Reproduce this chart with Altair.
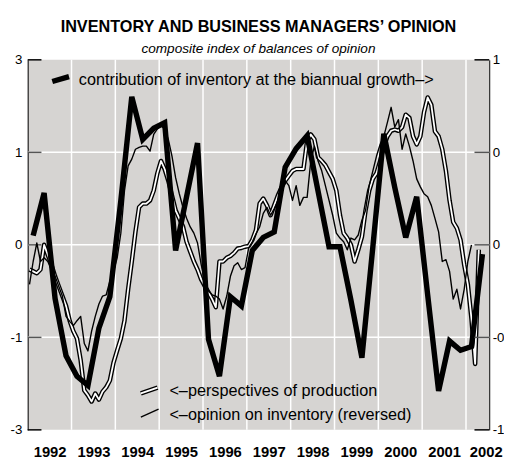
import altair as alt
import pandas as pd

# ---------------- data ----------------
year_ticks = [1993, 1994, 1995, 1996, 1997, 1998, 1999, 2000, 2001, 2002]
year_label_pos = [1992.5, 1993.5, 1994.5, 1995.5, 1996.5, 1997.5, 1998.5,
                  1999.5, 2000.5, 2001.5, 2002.45]

# contribution of inventory at the biannual growth (quarterly, right axis)
inventory_contrib = [0.05, 0.28, -0.29, -0.60, -0.71, -0.76, -0.45, -0.28,
                     0.24, 0.80, 0.57, 0.63, 0.66, -0.03, 0.26, 0.55,
                     -0.51, -0.71, -0.28, -0.33, -0.03, 0.04, 0.07, 0.42,
                     0.52, 0.59, 0.29, -0.01, -0.01, -0.30, -0.61, -0.01,
                     0.60, 0.31, 0.04, 0.26, -0.27, -0.79, -0.52, -0.57,
                     -0.55, -0.05]

# perspectives of production (monthly, left axis)
perspectives = [-0.40, -0.43, -0.46, -0.40, 0.00, -0.16, -0.32, -0.51, -0.67, -0.83, -0.99, -1.23,
                -1.40, -1.52, -1.87, -2.36, -2.44, -2.54, -2.41, -2.51, -2.38, -2.31, -2.20, -1.91,
                -1.71, -1.52, -1.23, -0.72, -0.27, 0.21, 0.61, 0.67, 0.67, 0.72, 0.88, 1.16,
                1.36, 1.23, 1.04, 0.80, 0.56, 0.43, 0.30, 0.05, -0.11, -0.27, -0.40, -0.56,
                -0.67, -0.77, -0.88, -1.01, -0.27, -0.27, -0.21, -0.18, -0.13, -0.06, -0.05, -0.03,
                -0.02, 0.08, 0.24, 0.67, 0.75, 0.64, 0.48, 0.64, 0.80, 0.93, 1.04, 1.12,
                1.20, 1.23, 1.23, 1.23, 1.68, 1.79, 1.71, 1.42, 1.36, 1.29, 1.18, 1.07,
                0.88, 0.48, 0.19, 0.11, 0.00, -0.27, -0.08, 0.13, 0.56, 0.88, 1.07, 1.16,
                1.36, 1.60, 1.76, 1.85, 1.87, 1.85, 1.91, 2.11, 2.06, 1.76, 1.63, 1.76,
                2.15, 2.39, 2.27, 1.84, 1.76, 1.55, 1.20, 0.72, 0.37, 0.27, 0.08, -0.32,
                -0.64, -1.20, -1.93, -0.08]

# opinion on inventory, reversed (monthly, left axis)
opinion = [-0.64, -0.27, 0.03, -0.27, -0.21, -0.27, -0.40, -0.51, -0.67, -0.83, -1.16, -1.24,
           -1.31, -1.23, -1.16, -1.60, -1.72, -1.40, -1.16, -0.96, -0.83, -0.81, -0.59, -0.43,
           -0.21, 0.19, 0.88, 1.28, 1.39, 1.55, 1.58, 1.60, 1.60, 1.52, 1.79, 1.88,
           1.93, 1.88, 1.71, 1.44, 1.09, 0.83, 0.61, 0.43, 0.29, 0.19, 0.03, -0.32,
           -0.59, -0.75, -0.81, -0.83, -0.88, -1.04, -0.83, -0.51, -0.34, -0.29, -0.40, -0.37,
           -0.05, 0.05, 0.18, 0.29, 0.51, 0.61, 0.48, 0.59, 0.72, 0.88, 1.04, 0.96,
           0.72, 0.96, 0.64, 0.77, 0.77, 1.36, 1.60, 1.36, 1.20, 0.96, 0.72, 0.48,
           0.19, 0.11, 0.05, -0.08, 0.11, 0.08, 0.16, 0.40, 0.56, 0.96, 1.20, 1.44,
           1.63, 1.76, 1.99, 2.23, 1.91, 2.03, 1.55, 1.80, 1.60, 1.36, 1.07, 0.94,
           0.83, 0.78, 0.64, 0.43, 0.21, -0.27, -0.24, -0.43, -0.88, -0.72, -1.04, -0.72,
           -0.27, 0.00]

left_ticks = [-3, -1.5, 0, 1.5, 3]
right_ticks = [-1, -0.5, 0, 0.5, 1]
tick_colors = ["black", "#555555", "#555555", "#555555", "black"]
h_grid = [-1.5, 0, 1.5]

# ---------------- frames ----------------
df_thick = pd.DataFrame({"t": [1992 + (i + 0.5) / 4 for i in range(len(inventory_contrib))],
                         "v": inventory_contrib})
df_persp = pd.DataFrame({"t": [1992 + (i + 0.5) / 12 for i in range(len(perspectives))],
                         "v": perspectives})
df_opin = pd.DataFrame({"t": [1992 + (i + 0.5) / 12 for i in range(len(opinion))],
                        "v": opinion})
df_vgrid = pd.DataFrame({"t": year_ticks})
df_hgrid = pd.DataFrame({"v": h_grid})
df_lt = pd.DataFrame({"v": left_ticks, "c": tick_colors})
df_rt = pd.DataFrame({"v": right_ticks, "c": tick_colors})
one = pd.DataFrame({"a": [0]})

W, H = 469, 376
FONT = "Liberation Sans, Arial, sans-serif"
LEG_FS = 16.5

xs = alt.Scale(domain=[1992, 2002.53], nice=False, zero=False)
yl = alt.Scale(domain=[-3, 3], nice=False, zero=False)
yr = alt.Scale(domain=[-1, 1], nice=False, zero=False)

label_expr = "(datum.value < 0 ? '-' : '') + floor(abs(datum.value))"

x_axis = alt.Axis(values=year_label_pos, labelExpr="toString(floor(datum.value))",
                  ticks=False, domain=False, grid=False, title=None,
                  labelFont=FONT, labelFontSize=15, labelFontWeight="bold",
                  labelColor="black", labelPadding=15, labelFlush=False,
                  labelOverlap=False)
yl_axis = alt.Axis(orient="left", values=left_ticks, labelExpr=label_expr,
                   ticks=False, domain=True, domainColor="black", domainWidth=1,
                   grid=False, title=None, labelFont=FONT, labelFontSize=13.5,
                   labelColor="black", labelPadding=6, labelOverlap=False)
yr_axis = alt.Axis(orient="right", values=right_ticks, labelExpr=label_expr,
                   ticks=False, domain=True, domainColor="black", domainWidth=1,
                   grid=False, title=None, labelFont=FONT, labelFontSize=13.5,
                   labelColor="black", labelPadding=3, labelOverlap=False)

X = alt.X("t:Q", scale=xs, axis=x_axis)
YL = alt.Y("v:Q", scale=yl, axis=yl_axis)
YR = alt.Y("v:Q", scale=yr, axis=yr_axis)

vgrid = alt.Chart(df_vgrid).mark_rule(color="white", strokeWidth=1.5).encode(x=X)
hgrid = alt.Chart(df_hgrid).mark_rule(color="white", strokeWidth=1.5).encode(y=YL)
lticks = alt.Chart(df_lt).mark_rule(strokeWidth=1.5).encode(
    y=YL, x=alt.value(0), x2=alt.value(14), color=alt.Color("c:N", scale=None))

persp_black = alt.Chart(df_persp).mark_line(color="black", strokeWidth=4.6,
                                            strokeJoin="round").encode(x=X, y=YL)
persp_white = alt.Chart(df_persp).mark_line(color="white", strokeWidth=1.8,
                                            strokeJoin="round").encode(x=X, y=YL)
opin_line = alt.Chart(df_opin).mark_line(color="black", strokeWidth=1.4,
                                         strokeJoin="round").encode(x=X, y=YL)

# legend glyphs and texts
leg_thick = alt.Chart(one).mark_rule(color="black", strokeWidth=5.5, strokeCap="butt").encode(
    x=alt.value(25), x2=alt.value(42), y=alt.value(22), y2=alt.value(17))
leg_txt1 = alt.Chart(one).mark_text(align="left", baseline="alphabetic", font=FONT,
                                    fontSize=LEG_FS, color="black").encode(
    x=alt.value(52), y=alt.value(26),
    text=alt.value("contribution of inventory at the biannual growth–>"))
leg_d_black = alt.Chart(one).mark_rule(color="black", strokeWidth=4.6).encode(
    x=alt.value(115), x2=alt.value(132), y=alt.value(339), y2=alt.value(333))
leg_d_white = alt.Chart(one).mark_rule(color="white", strokeWidth=1.8).encode(
    x=alt.value(115), x2=alt.value(132), y=alt.value(339), y2=alt.value(333))
leg_thin = alt.Chart(one).mark_rule(color="black", strokeWidth=1.4).encode(
    x=alt.value(115), x2=alt.value(133), y=alt.value(363), y2=alt.value(355))
leg_txt2 = alt.Chart(one).mark_text(align="left", baseline="alphabetic", font=FONT,
                                    fontSize=LEG_FS, color="black").encode(
    x=alt.value(144), y=alt.value(342), text=alt.value("<–perspectives of production"))
leg_txt3 = alt.Chart(one).mark_text(align="left", baseline="alphabetic", font=FONT,
                                    fontSize=LEG_FS, color="black").encode(
    x=alt.value(144), y=alt.value(366), text=alt.value("<–opinion on inventory (reversed)"))

thick_line = alt.Chart(df_thick).mark_line(color="black", strokeWidth=5.5,
                                           strokeJoin="miter").encode(x=X, y=YR)
rticks = alt.Chart(df_rt).mark_rule(strokeWidth=1.5).encode(
    y=YR, x=alt.value(W - 15), x2=alt.value(W), color=alt.Color("c:N", scale=None))

left = alt.layer(vgrid, hgrid, lticks, persp_black, persp_white, opin_line,
                 leg_d_black, leg_d_white, leg_thin, leg_txt2, leg_txt3)
right = alt.layer(thick_line, rticks, leg_thick, leg_txt1)

chart = alt.layer(left, right).resolve_scale(y="independent").properties(
    width=W, height=H,
    title=alt.TitleParams(
        text="INVENTORY AND BUSINESS MANAGERS’ OPINION",
        subtitle="composite index of balances of opinion",
        font=FONT, fontSize=16.5, fontWeight="bold", color="black",
        subtitleFont=FONT, subtitleFontSize=13.8, subtitleFontStyle="italic",
        subtitleColor="black", subtitlePadding=7, anchor="middle", offset=1, dy=4),
    autosize=alt.AutoSizeParams(type="none"),
    padding={"left": 20, "top": 49, "right": 15, "bottom": 30},
).configure_view(fill="#d6d4d2", stroke=None)

chart.save("out.html", embed_options={"renderer": "svg", "actions": False})
